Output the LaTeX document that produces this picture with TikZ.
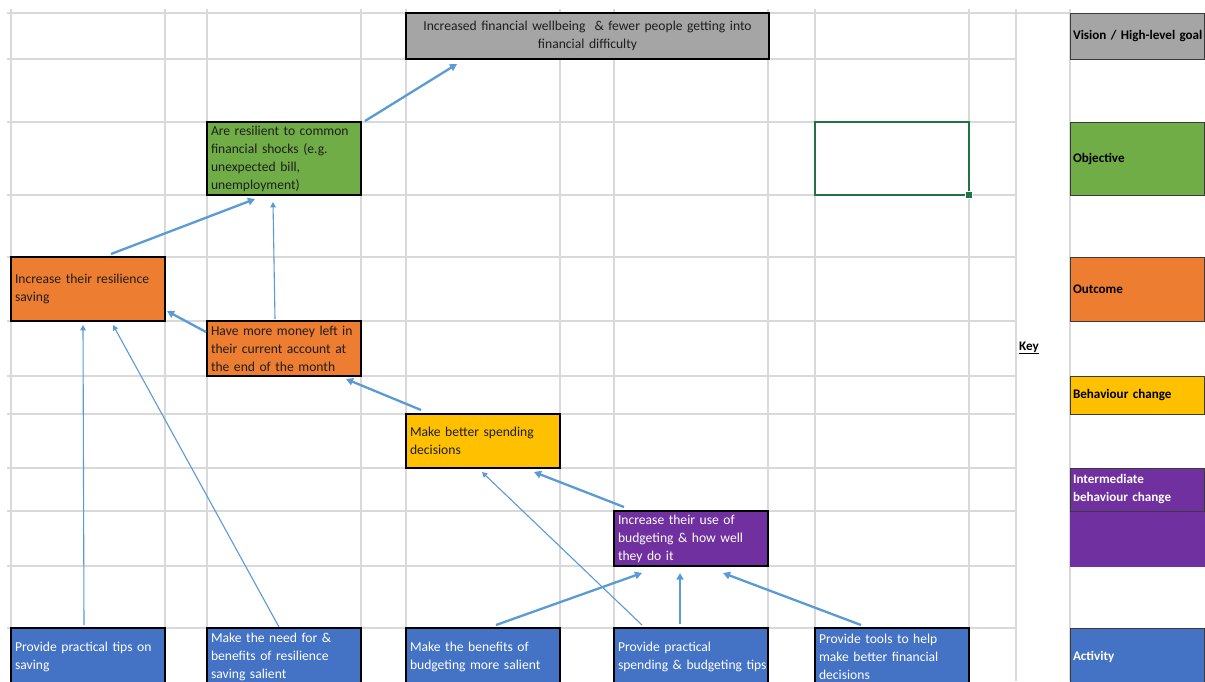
\documentclass[tikz,border=0pt]{standalone}
\usepackage{fontspec}
\setmainfont{Carlito}
\usetikzlibrary{arrows.meta,calc}
\definecolor{gridc}{HTML}{D9D9D9}
\definecolor{grayc}{HTML}{A5A5A5}
\definecolor{greenc}{HTML}{70AD47}
\definecolor{orangec}{HTML}{ED7D31}
\definecolor{yellowc}{HTML}{FFC000}
\definecolor{purplec}{HTML}{7030A0}
\definecolor{bluec}{HTML}{4472C4}
\definecolor{arrowc}{HTML}{5B9BD5}
\definecolor{selc}{HTML}{217346}
\definecolor{keyline}{HTML}{3A3A3A}
\definecolor{darktext}{HTML}{1E1E1E}
\begin{document}
\begin{tikzpicture}[x=1pt,y=-1pt,
  box/.style={draw=black,line width=1.8pt,rectangle,anchor=north west,inner xsep=4pt,inner ysep=1pt,outer sep=0pt,align=left,font=\fontsize{13.6}{18}\selectfont,text=darktext},
  keybox/.style={draw=keyline,line width=0.9pt,rectangle,anchor=north west,inner xsep=3pt,inner ysep=1pt,outer sep=0pt,align=left,font=\fontsize{13.1}{18}\selectfont\bfseries,text=black,minimum width=134pt,text width=128pt},
  thick arrow/.style={draw=arrowc,line width=2.3pt,-{Triangle[length=2pt 2.2,width=2pt 2.4]}},
  mid arrow/.style={draw=arrowc,line width=1.9pt,-{Triangle[length=2pt 2.4,width=2pt 2.6]}},
  thin arrow/.style={draw=arrowc,line width=1.1pt,-{Triangle[length=2pt 3,width=2pt 3.2]}},
  gridline/.style={draw=gridc,line width=1.2pt}
]
\clip (0,0) rectangle (1205,681);
\fill[white] (0,0) rectangle (1205,681);
% grid
\foreach \x in {11,165,207,361,406,560,614,768,815,969,1016,1070}
  \draw[gridline] (\x,9) -- (\x,681);
\draw[gridline] (7,13) -- (1070,13);
\foreach \y in {59,122,195,257,321,376,414,468,511,566,628}
  \draw[gridline] (7,\y) -- (1016,\y);

% main boxes
\node[box,fill=grayc,minimum width=363pt,minimum height=46pt,text width=355pt,align=center] (vision) at (406,13)
  {Increased financial wellbeing \ \& fewer people getting into\\financial difficulty};
\node[box,fill=greenc,minimum width=154pt,minimum height=73pt,text width=146pt] (obj) at (207,122)
  {Are resilient to common\\financial shocks (e.g.\\unexpected bill,\\unemployment)};
\node[box,fill=orangec,minimum width=154pt,minimum height=64pt,text width=146pt] (out1) at (11,257)
  {Increase their resilience\\saving};
\node[box,fill=orangec,minimum width=154pt,minimum height=55pt,text width=146pt] (out2) at (207,321)
  {Have more money left in\\their current account at\\the end of the month};
\node[box,fill=yellowc,minimum width=154pt,minimum height=54pt,text width=146pt] (beh) at (406,414)
  {Make better spending\\decisions};
\node[box,fill=purplec,text=white,minimum width=154pt,minimum height=55pt,text width=146pt] (int) at (614,511)
  {Increase their use of\\budgeting \& how well\\they do it};
\node[box,fill=bluec,text=white,minimum width=154pt,minimum height=58pt,text width=146pt] (act1) at (11,628)
  {Provide practical tips on\\saving};
\node[box,fill=bluec,text=white,minimum width=154pt,minimum height=58pt,text width=146pt] (act2) at (207,628)
  {Make the need for \&\\benefits of resilience\\saving salient};
\node[box,fill=bluec,text=white,minimum width=154pt,minimum height=58pt,text width=146pt] (act3) at (406,628)
  {Make the benefits of\\budgeting more salient};
\node[box,fill=bluec,text=white,minimum width=154pt,minimum height=58pt,text width=146pt] (act4) at (614,628)
  {Provide practical\\\mbox{spending \& budgeting tips}};
\node[box,fill=bluec,text=white,minimum width=154pt,minimum height=58pt,text width=146pt] (act5) at (815,628)
  {Provide tools to help\\make better financial\\decisions};

% selection rectangle
\node[draw=selc,line width=1.8pt,rectangle,anchor=north west,outer sep=0pt,minimum width=154pt,minimum height=73pt] (sel) at (815,122) {};
\fill[selc,draw=white,line width=0.6pt] ($(sel.south east)+(-3.5,-3.5)$) rectangle ($(sel.south east)+(3.5,3.5)$);

% key
\node[anchor=west,inner sep=0pt,font=\fontsize{13.1}{18}\selectfont\bfseries] (keylabel) at (1019,348) {\underline{Key}};
\node[keybox,fill=grayc,minimum height=46pt] (kvision) at (1070,13) {\mbox{Vision / High-level goal}};
\node[keybox,fill=greenc,minimum height=73pt] (kobj) at (1070,122) {Objective};
\node[keybox,fill=orangec,minimum height=64pt] (kout) at (1070,257) {Outcome};
\node[keybox,fill=yellowc,minimum height=38pt] (kbeh) at (1070,376) {Behaviour change};
\fill[purplec] (1070,511) rectangle (1205,567);
\node[keybox,fill=purplec,text=white,minimum height=43pt] (kint) at (1070,468) {Intermediate\\behaviour change};
\node[keybox,fill=bluec,text=white,minimum height=58pt] (kact) at (1070,628) {Activity};

% connectors
\draw[thick arrow] ($(obj.north east)+(4,-1)$) -- ($(vision.south west)+(51,5)$);
\draw[thick arrow] ($(out1.north west)+(100,-3)$) -- ($(obj.south west)+(48,4)$);
\draw[thin arrow] ($(out2.north west)+(68,-2)$) -- ($(obj.south west)+(66,7)$);
\draw[thick arrow] ($(out2.north west)+(-1,11)$) -- ($(out1.south east)+(2,-10)$);
\draw[thick arrow] ($(beh.north west)+(15,-4)$) -- ($(out2.south east)+(-15,3)$);
\draw[thick arrow] ($(int.north west)+(10,-4)$) -- ($(beh.south east)+(-26,4)$);
\draw[thin arrow] ($(act4.north west)+(28,-3)$) -- ($(beh.south west)+(76,4)$);
\draw[thick arrow] ($(act3.north west)+(90,-3)$) -- ($(int.south west)+(28,7)$);
\draw[mid arrow] ($(act4.north west)+(66,-4)$) -- ($(int.south west)+(66,7)$);
\draw[thick arrow] ($(act5.north west)+(46,-3)$) -- ($(int.south west)+(109,7)$);
\draw[thin arrow] ($(act1.north west)+(73,-3)$) -- ($(out1.south west)+(72,4)$);
\draw[thin arrow] ($(act2.north west)+(72,-1)$) -- ($(out1.south west)+(102,4)$);
\end{tikzpicture}
\end{document}
